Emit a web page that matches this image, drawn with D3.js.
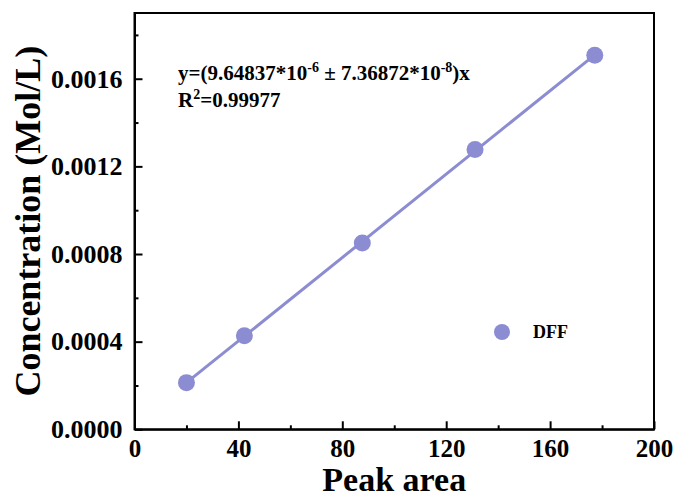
<!DOCTYPE html>
<html lang="en">
<head>
    <meta charset="UTF-8">
    <title>Calibration curve</title>
    <script src="https://cdn.jsdelivr.net/npm/d3@7"></script>
    <style>
        body { margin: 0; background: #fff; }
        text { font-family: "Times New Roman", "Liberation Serif", serif; font-weight: bold; }
    </style>
</head>
<body>
<script>
// data
var peakArea = [20.0, 42.3, 87.7, 131.1, 177.2];
var concentration = [0.000213, 0.000427, 0.000850, 0.001277, 0.001707];
var xTicks = [0, 40, 80, 120, 160, 200];
var yTicks = [0, 0.0004, 0.0008, 0.0012, 0.0016];
var seriesName = 'DFF';

var width = 677, height = 499;
var margin = {top: 13, right: 23, bottom: 70, left: 134.5};
var color = '#8c8cd2';

var svg = d3.select('body').append('svg')
    .attr('width', width)
    .attr('height', height);

var x = d3.scaleLinear().domain([0, 200]).range([margin.left, width - margin.right]);
var y = d3.scaleLinear().domain([0, 0.0019]).range([429.3, margin.top]);

// x axis, ticks pointing inward
var xAxis = d3.axisBottom(x).tickValues(xTicks).tickSizeInner(-8).tickSizeOuter(0).tickPadding(10);
var gx = svg.append('g').attr('transform', 'translate(0,' + y(0) + ')').call(xAxis);
gx.selectAll('text').attr('font-size', 25).attr('fill', '#000');
svg.append('g').attr('transform', 'translate(0,' + y(0) + ')')
    .call(d3.axisBottom(x).tickValues(d3.range(20, 200, 40)).tickSizeInner(-4).tickSizeOuter(0).tickFormat(''))
    .select('.domain').remove();

var yAxis = d3.axisLeft(y).tickValues(yTicks).tickSizeInner(-8).tickSizeOuter(0)
    .tickPadding(12).tickFormat(d3.format('.4f'));
var gy = svg.append('g').attr('transform', 'translate(' + x(0) + ',0)').call(yAxis);
gy.selectAll('text').attr('font-size', 26).attr('fill', '#000');
svg.append('g').attr('transform', 'translate(' + x(0) + ',0)')
    .call(d3.axisLeft(y).tickValues(d3.range(0.0002, 0.0019, 0.0004)).tickSizeInner(-4).tickSizeOuter(0).tickFormat(''))
    .select('.domain').remove();

svg.selectAll('.domain, .tick line').attr('stroke', '#000').attr('stroke-width', 2);

// frame
svg.append('rect')
    .attr('x', x(0)).attr('y', y(0.0019))
    .attr('width', x(200) - x(0)).attr('height', y(0) - y(0.0019))
    .attr('fill', 'none').attr('stroke', '#000').attr('stroke-width', 2);

// least squares fit line
var pts = peakArea.map(function(d, i) { return [d, concentration[i]]; });
var mx = d3.mean(peakArea), my = d3.mean(concentration);
var slope = d3.sum(pts, function(p) { return (p[0] - mx) * (p[1] - my); }) /
    d3.sum(pts, function(p) { return (p[0] - mx) * (p[0] - mx); });
var icpt = my - slope * mx;
var x0 = d3.min(peakArea), x1 = d3.max(peakArea);
svg.append('line')
    .attr('x1', x(x0)).attr('y1', y(icpt + slope * x0))
    .attr('x2', x(x1)).attr('y2', y(icpt + slope * x1))
    .attr('stroke', color).attr('stroke-width', 3);

svg.selectAll('circle.pt')
    .data(pts)
    .enter()
    .append('circle')
    .attr('class', 'pt')
    .attr('cx', function(d) { return x(d[0]); })
    .attr('cy', function(d) { return y(d[1]); })
    .attr('r', 8.5)
    .attr('fill', color);

// equation text
var eq = svg.append('text').attr('x', 178).attr('y', 80).attr('font-size', 21).attr('fill', '#000');
eq.append('tspan').text('y=(9.64837*10');
eq.append('tspan').attr('font-size', 14).attr('dy', -8).text('-6');
eq.append('tspan').attr('dy', 8).text(' \u00b1 7.36872*10');
eq.append('tspan').attr('font-size', 14).attr('dy', -8).text('-8');
eq.append('tspan').attr('dy', 8).text(')x');

var r2 = svg.append('text').attr('x', 178).attr('y', 107).attr('font-size', 21).attr('fill', '#000');
r2.append('tspan').text('R');
r2.append('tspan').attr('font-size', 14).attr('dy', -8).text('2');
r2.append('tspan').attr('dy', 8).text('=0.99977');

// legend
svg.append('circle').attr('cx', 502).attr('cy', 332).attr('r', 8).attr('fill', color);
svg.append('text').attr('x', 533).attr('y', 338).attr('font-size', 18).attr('fill', '#000').text(seriesName);

// axis titles
svg.append('text')
    .attr('x', (x(0) + x(200)) / 2).attr('y', 491)
    .attr('text-anchor', 'middle').attr('font-size', 34).attr('fill', '#000')
    .text('Peak area');
svg.append('text')
    .attr('transform', 'translate(40,' + (y(0) + y(0.0019)) / 2 + ') rotate(-90)')
    .attr('text-anchor', 'middle').attr('font-size', 36).attr('fill', '#000')
    .text('Concentration (Mol/L)');
</script>
</body>
</html>
